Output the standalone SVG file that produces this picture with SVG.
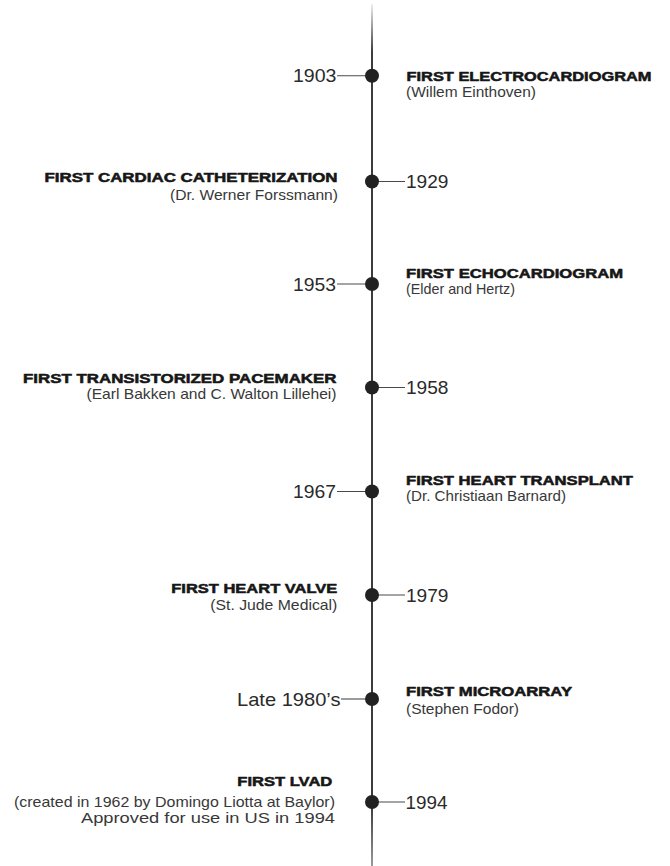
<svg xmlns="http://www.w3.org/2000/svg" width="670" height="866" viewBox="0 0 670 866">
  <defs>
    <linearGradient id="axisFade" gradientUnits="userSpaceOnUse" x1="0" y1="0" x2="0" y2="866">
      <stop offset="0" stop-color="#ffffff"/>
      <stop offset="0.012" stop-color="#d8d8d8"/>
      <stop offset="0.06" stop-color="#3c3c3c"/>
      <stop offset="0.93" stop-color="#3c3c3c"/>
      <stop offset="1" stop-color="#9a9a9a"/>
    </linearGradient>
    <style>
      .bg { fill: #ffffff; }
      .axis { stroke: url(#axisFade); stroke-width: 2; fill: none; }
      .tick { stroke: #4a4a4a; stroke-width: 1.1; fill: none; }
      .dot { fill: #222222; }
      .year { font-family: "Liberation Sans", Arial, sans-serif; font-size: 18.5px; fill: #2a2a2a; }
      .title { font-family: "Liberation Sans", Arial, sans-serif; font-size: 13.5px; font-weight: bold; fill: #161616; stroke: #161616; stroke-width: 0.55px; stroke-linejoin: round; }
      .sub { font-family: "Liberation Sans", Arial, sans-serif; font-size: 14.8px; fill: #383838; }
      .end { text-anchor: end; }
    </style>
  </defs>

  <rect class="bg" x="0" y="0" width="670" height="866"/>

  <!-- timeline axis and the short leaders to each year label -->
  <g id="connectors">
    <line class="axis" x1="372" y1="4" x2="372" y2="866"/>
    <line class="tick" x1="337" y1="75.7" x2="372" y2="75.7"/>
    <line class="tick" x1="372" y1="181.5" x2="405" y2="181.5"/>
    <line class="tick" x1="337" y1="284" x2="372" y2="284"/>
    <line class="tick" x1="372" y1="387.5" x2="405" y2="387.5"/>
    <line class="tick" x1="337" y1="491.5" x2="372" y2="491.5"/>
    <line class="tick" x1="372" y1="595" x2="405" y2="595"/>
    <line class="tick" x1="341" y1="699" x2="372" y2="699"/>
    <line class="tick" x1="372" y1="802" x2="405" y2="802"/>
  </g>

  <g id="event-1903">
    <circle class="dot" cx="372" cy="75.7" r="7"/>
    <text class="year end" x="336.5" y="82.3" textLength="43.5" lengthAdjust="spacingAndGlyphs">1903</text>
    <text class="title" x="406.5" y="80.5" textLength="245" lengthAdjust="spacingAndGlyphs">FIRST ELECTROCARDIOGRAM</text>
    <text class="sub" x="406" y="96.5" textLength="130" lengthAdjust="spacingAndGlyphs">(Willem Einthoven)</text>
  </g>

  <g id="event-1929">
    <circle class="dot" cx="372" cy="181.5" r="7"/>
    <text class="year" x="406" y="188.1" textLength="42.5" lengthAdjust="spacingAndGlyphs">1929</text>
    <text class="title end" x="337.5" y="182" textLength="293" lengthAdjust="spacingAndGlyphs">FIRST CARDIAC CATHETERIZATION</text>
    <text class="sub end" x="338" y="199.5" textLength="168" lengthAdjust="spacingAndGlyphs">(Dr. Werner Forssmann)</text>
  </g>

  <g id="event-1953">
    <circle class="dot" cx="372" cy="284" r="7"/>
    <text class="year end" x="336" y="290.6" textLength="43" lengthAdjust="spacingAndGlyphs">1953</text>
    <text class="title" x="406" y="277.5" textLength="217" lengthAdjust="spacingAndGlyphs">FIRST ECHOCARDIOGRAM</text>
    <text class="sub" x="406" y="293.5" textLength="109" lengthAdjust="spacingAndGlyphs">(Elder and Hertz)</text>
  </g>

  <g id="event-1958">
    <circle class="dot" cx="372" cy="387.5" r="7"/>
    <text class="year" x="406" y="394.1" textLength="42.5" lengthAdjust="spacingAndGlyphs">1958</text>
    <text class="title end" x="336.5" y="383" textLength="313.5" lengthAdjust="spacingAndGlyphs">FIRST TRANSISTORIZED PACEMAKER</text>
    <text class="sub end" x="336.5" y="399" textLength="250" lengthAdjust="spacingAndGlyphs">(Earl Bakken and C. Walton Lillehei)</text>
  </g>

  <g id="event-1967">
    <circle class="dot" cx="372" cy="491.5" r="7"/>
    <text class="year end" x="336" y="498.1" textLength="43" lengthAdjust="spacingAndGlyphs">1967</text>
    <text class="title" x="406" y="485" textLength="227" lengthAdjust="spacingAndGlyphs">FIRST HEART TRANSPLANT</text>
    <text class="sub" x="406" y="501" textLength="160" lengthAdjust="spacingAndGlyphs">(Dr. Christiaan Barnard)</text>
  </g>

  <g id="event-1979">
    <circle class="dot" cx="372" cy="595" r="7"/>
    <text class="year" x="406" y="601.6" textLength="42.5" lengthAdjust="spacingAndGlyphs">1979</text>
    <text class="title end" x="337.3" y="593" textLength="166" lengthAdjust="spacingAndGlyphs">FIRST HEART VALVE</text>
    <text class="sub end" x="337.3" y="609.5" textLength="127" lengthAdjust="spacingAndGlyphs">(St. Jude Medical)</text>
  </g>

  <g id="event-late-1980s">
    <circle class="dot" cx="372" cy="699" r="7"/>
    <text class="year end" x="340.5" y="705.6" textLength="103.5" lengthAdjust="spacingAndGlyphs">Late 1980’s</text>
    <text class="title" x="406" y="696" textLength="166" lengthAdjust="spacingAndGlyphs">FIRST MICROARRAY</text>
    <text class="sub" x="406" y="713.5" textLength="113" lengthAdjust="spacingAndGlyphs">(Stephen Fodor)</text>
  </g>

  <g id="event-1994">
    <circle class="dot" cx="372" cy="802" r="7"/>
    <text class="year" x="405.5" y="808.6" textLength="42" lengthAdjust="spacingAndGlyphs">1994</text>
    <text class="title end" x="332.3" y="786" textLength="95" lengthAdjust="spacingAndGlyphs">FIRST LVAD</text>
    <text class="sub end" x="335" y="806.5" textLength="321" lengthAdjust="spacingAndGlyphs">(created in 1962 by Domingo Liotta at Baylor)</text>
    <text class="sub end" x="335" y="822.5" textLength="254" lengthAdjust="spacingAndGlyphs">Approved for use in US in 1994</text>
  </g>
</svg>
